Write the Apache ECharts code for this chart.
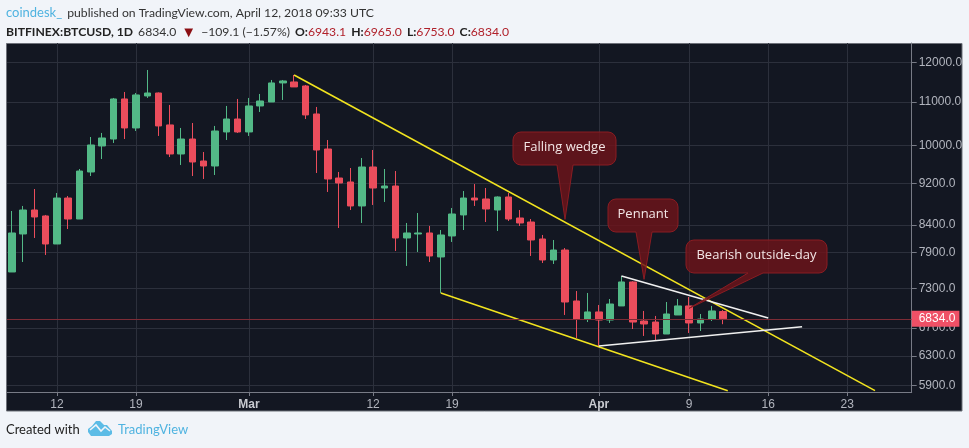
<!DOCTYPE html>
<html>
<head>
<meta charset="utf-8">
<style>
html, body { margin: 0; padding: 0; background: #f1f4f9; }
#container { width: 969px; height: 448px; }
</style>
<script src="https://cdn.jsdelivr.net/npm/echarts@6/dist/echarts.min.js"></script>
</head>
<body>
<div id="container"></div>
<script>
// daily candles, one entry per day starting 8 Feb 2018
let firstDay = Date.UTC(2018, 1, 8);
let opens = [7573, 8232, 8677, 8564, 8053, 8908, 8507, 9432, 9986, 10140, 11072, 10389, 11145, 11218, 10458, 9812, 10140, 9662, 9557, 10298, 10595,
    10298, 10903, 10999, 11468, 11493, 11392, 10713, 9920, 9308, 9227, 8754, 9536, 9106, 9146, 8160, 8232, 8250, 7827, 8196, 8583, 8908, 8889, 8677, 8928, 8526, 8451, 8142, 7775, 7947, 7106, 6830,
    6937, 6815, 7029, 7409, 6800, 6785, 6609, 6891, 7029, 6771, 6830, 6943.1];
let closes = [8250, 8677, 8545, 8053, 8908, 8507, 9452, 10008, 10163, 11072, 10389, 11170, 11218, 10435, 9812, 10140, 9641, 9557, 10320, 10595, 10298,
    10903, 11023, 11468, 11518, 11368, 10690, 9898, 9288, 9207, 8754, 9536, 9106, 9146, 8160, 8250, 8250, 7844, 8214, 8601, 8908, 8869, 8696, 8928, 8507, 8433, 8124, 7775, 7947, 7090, 6830, 6937,
    6815, 7059, 7409, 6785, 6756, 6609, 6906, 7029, 6771, 6830, 6952, 6834];
let lows = [7573, 7741, 8160, 7861, 8053, 8322, 8507, 9349, 9704, 10052, 10140, 10320, 11096, 10208, 9747, 9578, 9349, 9288, 9370, 10118, 10276,
    10208, 10760, 10999, 11047, 11368, 10595, 9411, 9027, 8341, 8677, 8433, 8773, 8831, 7930, 7674, 7913, 7741, 7232, 8089, 8304, 8754, 8451, 8286, 8470, 8378, 7844, 7724, 7707, 6891, 6552, 6785,
    6438, 6771, 7029, 6682, 6581, 6509, 6609, 6891, 6624, 6653, 6800, 6753];
let highs = [8658, 8754, 9086, 8583, 9007, 8948, 9494, 10185, 10276, 11096, 11243, 11218, 11799, 11230, 10927, 10389, 10503, 9855, 10435, 10903, 11072,
    11096, 11194, 11543, 11543, 11671, 11417, 10879, 10118, 9432, 9515, 9726, 9898, 9494, 9452, 8433, 8620, 8378, 8304, 8715, 9046, 9186, 9106, 8940, 9007, 8677, 8507, 8214, 8124, 7982, 7263, 7232,
    7044, 7137, 7507, 7420, 6952, 6876, 7090, 7137, 7169, 6906, 7029, 6965];

let lastClose = 6834;
let priceTicks = [5900, 6300, 6700, 7300, 7900, 8400, 9200, 10000, 11000, 12000];
let dateTicks = ['2018-02-12', '2018-02-19', '2018-03-01', '2018-03-12', '2018-03-19', '2018-04-01', '2018-04-09', '2018-04-16', '2018-04-23'];
let dateLabels = ['12', '19', 'Mar', '12', '19', 'Apr', '9', '16', '23'];

// drawn trend lines: date and price at both ends
let wedgeUpper = [['2018-03-05', 11671], ['2018-04-25T11:00', 5836]];
let wedgeLower = [['2018-03-18', 7232], ['2018-04-12T10:00', 5835]];
let pennantUpper = [['2018-04-03', 7507], ['2018-04-16', 6846]];
let pennantLower = [['2018-04-01', 6438], ['2018-04-19', 6716]];

let noteTexts = ['Falling wedge', 'Pennant', 'Bearish outside-day'];
let noteDates = ['2018-03-29', '2018-04-05', '2018-04-09'];
let notePrices = [8500, 7452, 6993];

const UP = '#53b987', DOWN = '#eb4d5c', GRID = '#2c303c', AXIS = '#787b86';
const day = 86400000;
const pxPerDay = 11.29;
let gridLeft = 7, gridRight = 911.7, gridTop = 43, gridBottom = 392;

function toTime(d) {
    return new Date(d.length > 10 ? d + ':00Z' : d + 'T00:00:00Z').getTime();
}

let candles = opens.map(function (o, i) {
    return [firstDay + i * day, o, closes[i], lows[i], highs[i]];
});
let tickTimes = dateTicks.map(toTime);

// callout boxes in pixels: left, top, right, bottom, pointer base left/right
let noteBoxes = [
    [513, 132, 616, 165, 557, 573],
    [608, 199, 678, 232, 636, 652],
    [686, 240, 827, 273, 748, 763]
];

function calloutPoints(b, tip) {
    let r = 8, pts = [];
    function arc(cx, cy, a0) {
        for (let k = 0; k <= 4; k++) {
            let a = a0 + k * Math.PI / 8;
            pts.push([cx + r * Math.cos(a), cy + r * Math.sin(a)]);
        }
    }
    arc(b[0] + r, b[1] + r, Math.PI);
    arc(b[2] - r, b[1] + r, Math.PI * 1.5);
    arc(b[2] - r, b[3] - r, 0);
    pts.push([b[5], b[3]], tip, [b[4], b[3]]);
    arc(b[0] + r, b[3] - r, Math.PI / 2);
    return pts;
}

function trendLine(points, color) {
    return {
        type: 'line',
        data: points.map(function (p) { return [toTime(p[0]), p[1]]; }),
        showSymbol: false,
        silent: true,
        z: 4,
        lineStyle: { color: color, width: 1.6 }
    };
}

let myChart = echarts.init(document.getElementById('container'));

let headFont = { fontFamily: 'Lato', fontSize: 12.2, fontWeight: 'normal' };

let option = {
    animation: false,
    backgroundColor: '#f1f4f9',
    textStyle: { fontFamily: 'Liberation Sans' },
    title: [
        {
            left: 6, top: 4, padding: 0,
            text: '{a|coindesk_} {b|published on TradingView.com, April 12, 2018 09:33 UTC}',
            textStyle: {
                fontWeight: 'normal',
                rich: {
                    a: Object.assign({}, headFont, { color: '#4fb3e0', fontSize: 13 }),
                    b: Object.assign({}, headFont, { color: '#333' })
                }
            }
        },
        {
            left: 6, top: 23, padding: 0,
            text: '{k|BITFINEX:BTCUSD, 1D} {v|6834.0} {d|▼} {v|−109.1 (−1.57%)} {k|O:}{r|6943.1} {k|H:}{r|6965.0} {k|L:}{r|6753.0} {k|C:}{r|6834.0}',
            textStyle: {
                fontWeight: 'normal',
                rich: {
                    k: Object.assign({}, headFont, { color: '#222', fontWeight: 'bold' }),
                    v: Object.assign({}, headFont, { color: '#333' }),
                    r: Object.assign({}, headFont, { color: '#b0202a' }),
                    d: Object.assign({}, headFont, { color: '#8b0f14', fontSize: 15 })
                }
            }
        },
        {
            left: 6, top: 423, padding: 0,
            text: 'Created with',
            textStyle: { color: '#222', fontFamily: 'Lato', fontSize: 13, fontWeight: 'normal' }
        },
        {
            left: 118, top: 423, padding: 0,
            text: 'TradingView',
            textStyle: { color: '#4fb3e0', fontFamily: 'Lato', fontSize: 13, fontWeight: 'normal' }
        }
    ],
    graphic: [
        {
            type: 'rect', z: -10, silent: true,
            shape: { x: 6.5, y: 43.5, width: 955.5, height: 367.5 },
            style: { fill: '#131722', stroke: '#6d7079', lineWidth: 1 }
        },
        {
            // TradingView cloud
            type: 'polygon', silent: true,
            shape: { points: [[88, 432], [88, 429], [92, 426], [96, 421], [100, 421], [104, 425], [107, 425], [112, 431], [112, 434], [109, 436], [91, 436]] },
            style: { fill: '#5cbce6' }
        },
        {
            type: 'polyline', silent: true,
            shape: { points: [[90, 430], [96, 425], [101, 431], [105, 427], [110, 431]] },
            style: { fill: 'none', stroke: '#f1f4f9', lineWidth: 1.6 }
        }
    ],
    grid: {
        left: gridLeft,
        top: gridTop,
        width: gridRight - gridLeft,
        height: gridBottom - gridTop
    },
    xAxis: {
        type: 'value',
        scale: true,
        min: firstDay - (11.8 - gridLeft) / pxPerDay * day,
        max: firstDay + (gridRight - 11.8) / pxPerDay * day,
        axisLine: { onZero: false, lineStyle: { color: AXIS } },
        axisTick: { length: 4, lineStyle: { color: AXIS }, customValues: tickTimes },
        splitLine: { show: true, lineStyle: { color: GRID } },
        axisLabel: {
            customValues: tickTimes,
            color: '#b2b5be',
            fontSize: 12,
            margin: 7,
            hideOverlap: false,
            formatter: function (value) {
                let s = dateLabels[tickTimes.indexOf(value)];
                return isNaN(s) ? '{m|' + s + '}' : s;
            },
            rich: { m: { fontWeight: 'bold', color: '#c8cad0', fontSize: 12 } }
        }
    },
    yAxis: {
        type: 'log',
        logBase: 10,
        position: 'right',
        min: 5819,
        max: 12519,
        axisLine: { show: true, lineStyle: { color: AXIS } },
        axisTick: { show: true, length: 5, lineStyle: { color: AXIS }, customValues: priceTicks },
        splitLine: { show: true, lineStyle: { color: GRID } },
        minorSplitLine: { show: false },
        axisLabel: {
            customValues: priceTicks,
            color: '#b2b5be',
            fontSize: 12,
            margin: 7,
            formatter: function (value) { return Number(value).toFixed(1); }
        }
    },
    series: [
        {
            type: 'candlestick',
            data: candles,
            barWidth: 7,
            z: 3,
            itemStyle: {
                color: UP,
                color0: DOWN,
                borderColor: UP,
                borderColor0: DOWN,
                borderWidth: 1
            },
            markLine: {
                silent: true,
                symbol: 'none',
                animation: false,
                lineStyle: { color: '#7d2c36', width: 1, type: 'solid' },
                label: {
                    position: 'end',
                    distance: 0,
                    formatter: lastClose.toFixed(1),
                    color: '#fff',
                    fontSize: 12,
                    backgroundColor: '#ef5066',
                    padding: [2, 4, 2, 7]
                },
                data: [{ yAxis: lastClose }]
            }
        },
        trendLine(wedgeUpper, '#f2e41f'),
        trendLine(wedgeLower, '#f2e41f'),
        trendLine(pennantUpper, '#f0f0f0'),
        trendLine(pennantLower, '#f0f0f0'),
        {
            type: 'custom',
            z: 6,
            silent: true,
            clip: false,
            data: noteTexts.map(function (t, i) { return [toTime(noteDates[i]), notePrices[i]]; }),
            encode: { x: 0, y: 1 },
            renderItem: function (params, api) {
                let tip = api.coord([api.value(0), api.value(1)]);
                let b = noteBoxes[params.dataIndex];
                return {
                    type: 'group',
                    children: [
                        {
                            type: 'polygon',
                            shape: { points: calloutPoints(b, tip) },
                            style: { fill: 'rgba(110,20,26,0.82)', stroke: '#8a1c22', lineWidth: 1 }
                        },
                        {
                            type: 'text',
                            style: {
                                x: (b[0] + b[2]) / 2,
                                y: (b[1] + b[3]) / 2 - 1,
                                text: noteTexts[params.dataIndex],
                                align: 'center',
                                verticalAlign: 'middle',
                                fill: '#f3e6e6',
                                fontFamily: 'Open Sans',
                                fontSize: 13
                            }
                        }
                    ]
                };
            }
        }
    ]
};

myChart.setOption(option, true);
</script>
</body>
</html>
